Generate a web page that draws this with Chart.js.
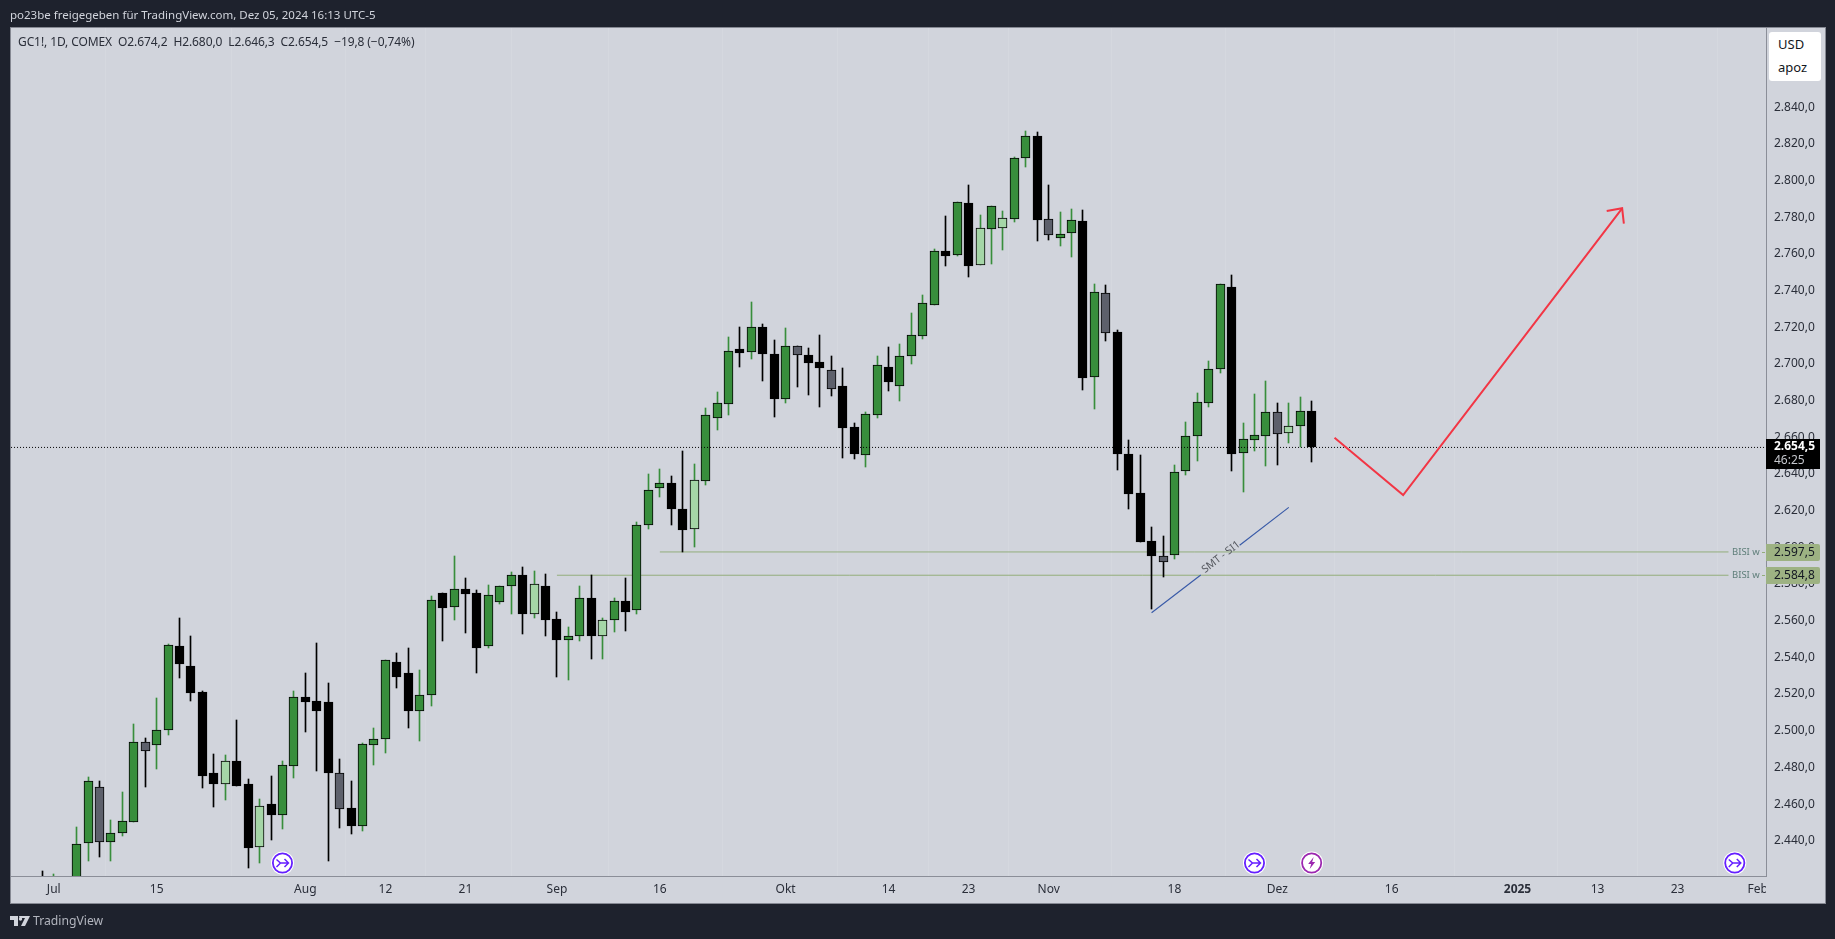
<!DOCTYPE html>
<html lang="de">
<head>
<meta charset="utf-8">
<title>GC1! 1D</title>
<script src="https://cdn.jsdelivr.net/npm/chart.js@4/dist/chart.umd.min.js"></script>
<style>
  html, body { margin: 0; padding: 0; background: #1e222d; overflow: hidden; }
  body { width: 1835px; height: 939px; position: relative; font-family: "Noto Sans", sans-serif; }
  #pane { position: absolute; left: 10px; top: 27px; width: 1814px; height: 875px; background: #d1d4dc; border: 1px solid #868993; }
  #chart { position: absolute; left: 0; top: 0; }
  #shared { position: absolute; left: 10px; top: 6px; font-size: 11.5px; line-height: 18px; color: #d1d4dc; white-space: nowrap; }
  #legend { position: absolute; left: 18px; top: 33px; font-size: 12px; letter-spacing: -0.1px; line-height: 18px; color: #2a2e39; white-space: pre; }
  #unit { position: absolute; left: 1769px; top: 32px; width: 52px; height: 49px; background: #fff; border-radius: 3px; color: #131722; font-size: 13px; line-height: 23px; }
  #unit div { padding-left: 9px; }
  #unit div:first-child { padding-top: 1px; }
  #logo { position: absolute; left: 10px; top: 916px; }
  #brand { position: absolute; left: 33px; top: 911px; font-size: 12.2px; line-height: 20px; color: #b2b5be; }
</style>
</head>
<body>
<div id="pane"></div>
<canvas id="chart" width="1835" height="939"></canvas>
<div id="shared">po23be freigegeben für TradingView.com, Dez 05, 2024 16:13 UTC-5</div>
<div id="legend">GC1!, 1D, COMEX  O2.674,2  H2.680,0  L2.646,3  C2.654,5  −19,8 (−0,74%)</div>
<div id="unit"><div>USD</div><div>apoz</div></div>
<svg id="logo" width="20" height="10" viewBox="0 0 20 10"><path fill="#d1d4dc" d="M0 0h8v10H4V4H0zM9 0h11l-5 10h-4l4-8h-3l-2 2z"/><circle cx="10.5" cy="3" r="1.7" fill="#d1d4dc"/></svg>
<div id="brand">TradingView</div>
<script>
// bar 0 is the last days of June, bar 111 is Dez 05
const opens = [2410, 2404, 2410, 2405, 2438.6, 2469.1, 2439.1, 2444.1, 2450.1, 2493.7, 2492, 2500.2, 2546, 2535.1, 2520.9, 2476.8, 2470.8, 2483.3, 2470.8, 2436.4, 2459.9, 2453.9, 2480.6, 2518.2, 2516, 2515.5, 2476.8, 2457.7, 2447.9, 2492, 2495.3, 2537.3, 2531.3, 2510.9, 2519.3, 2575.1,
  2567.3, 2577.1, 2575, 2546, 2570, 2578.8, 2584.8, 2563.9, 2578.8, 2560.8, 2549.3, 2551.5, 2572.2, 2551.5, 2560.6, 2570.6, 2565.7, 2612.4, 2632.6, 2634.9, 2620.7, 2609.8, 2636,
  2670.7, 2678.3, 2708, 2706.3, 2720, 2705.2, 2681.1, 2709.6, 2704.7, 2700.9, 2696.5, 2687.8, 2665.4, 2650.5, 2672.3, 2698.1, 2688.2,
  2704.5, 2715.4, 2732.4, 2761.4, 2759.6, 2787.6, 2754.2, 2773.4, 2774, 2779.2, 2812.1, 2824.1, 2778.9, 2768.5, 2771.2, 2777.8, 2692.7, 2738.5,
  2717.3, 2650.7, 2629.5, 2603.3, 2595.1, 2596, 2641.5, 2660.6, 2678.5, 2697.1, 2741.8, 2651.3, 2658.4, 2660.6, 2673.6, 2662.2, 2666, 2674.2];
const highs = [2423.5, 2421.9, 2418, 2447.5, 2474.8, 2472.4, 2451.3, 2466.6, 2503.7, 2495.9, 2517.8, 2547.3, 2561.5, 2551.7, 2521.5, 2487.3, 2486.8, 2505.9, 2473.7, 2462.6, 2475.3, 2483.3, 2521.5, 2531.5, 2547.8, 2526, 2484.6, 2472.6, 2493.1, 2501.5, 2538.4, 2542.4, 2545.1, 2533.1, 2573.5, 2575.1,
  2595.3, 2583.3, 2576.6, 2579.3, 2578.8, 2586.4, 2589.1, 2586.9, 2585.5, 2564.6, 2556.4, 2578.8, 2584.8, 2561.3, 2572.2, 2583.3, 2613.7, 2640, 2642.5, 2638.7, 2652.5, 2645.3, 2675.8,
  2684.7, 2714.7, 2720, 2733.8, 2721.8, 2713.1, 2719.4, 2709.6, 2708.7, 2715.8, 2704.2, 2697.8, 2667.8, 2673.6, 2704.2, 2709, 2710.9,
  2727.6, 2737.4, 2762.5, 2780.7, 2788.1, 2797.6, 2781, 2786, 2783.2, 2812.7, 2826.9, 2826.3, 2797.6, 2782.7, 2784.3, 2783.8, 2743.4, 2742.9,
  2718.5, 2658.4, 2650.2, 2611.1, 2606.2, 2644.7, 2668.2, 2684, 2701.4, 2743.4, 2748.3, 2667.6, 2683.5, 2690.5, 2678.5, 2678.5, 2681.8, 2680];
const lows = [2396, 2398, 2404, 2400, 2429.2, 2431.3, 2429.2, 2442.8, 2450.1, 2469.5, 2479.1, 2497.9, 2528.9, 2516.4, 2469, 2458.6, 2462.4, 2470, 2425.3, 2428.1, 2440.6, 2446.6, 2474.4, 2499.5, 2478.2, 2429.2, 2447.1, 2443.9, 2445.5, 2481.5, 2488, 2523.5, 2501.7, 2494.6, 2513.7, 2549.1,
  2560.6, 2553.5, 2531.7, 2545.3, 2569.3, 2563.9, 2552.9, 2561.7, 2551.9, 2529.5, 2527.9, 2549.1, 2539.3, 2539.3, 2554, 2554.6, 2563.9, 2610.2, 2627.6, 2612.4, 2597.5, 2600.4, 2634.2,
  2664.2, 2672.3, 2698.5, 2702.9, 2690.9, 2671.3, 2678.9, 2687.6, 2683.2, 2676.7, 2682.7, 2648.9, 2648.4, 2644, 2670.7, 2685.4, 2680,
  2700, 2713.8, 2732.4, 2753.6, 2759.1, 2747.6, 2754.2, 2754.7, 2762.3, 2777.6, 2807.6, 2767.3, 2767.8, 2764.5, 2758.5, 2686, 2675.6, 2712.7,
  2642.4, 2621.1, 2603.1, 2566.6, 2584, 2593.9, 2639.7, 2647.3, 2676.7, 2695.3, 2641.8, 2630.4, 2652.7, 2644.6, 2645.1, 2657.1, 2654.6, 2646.3];
const closes = [2404, 2412, 2415, 2438.1, 2472.4, 2439.1, 2444.1, 2450.6, 2493.7, 2488.8, 2500.2, 2546.6, 2536.2, 2520.8, 2475.5, 2471.1, 2483.3, 2470, 2436.2, 2458.8, 2454.2, 2481.1, 2518.2, 2515.8, 2510.9, 2477.1, 2457.1, 2448.2, 2492.6, 2495.3, 2538.4, 2529.5, 2510.9, 2519.3, 2571.1, 2567.1,
  2577.1, 2574.8, 2545.3, 2573.9, 2578.8, 2584.8, 2563.9, 2579.9, 2560.6, 2549.7, 2551.5, 2572.2, 2551.9, 2560.2, 2570.6, 2565, 2612, 2631.1, 2634.9, 2621.1, 2609.7, 2636.5, 2672,
  2678.5, 2706.9, 2706.1, 2720, 2705.6, 2681.1, 2709.6, 2705.1, 2700.7, 2698, 2686.5, 2665.3, 2651.1, 2672.5, 2699.3, 2690.3, 2704.2,
  2715.6, 2733.1, 2761.4, 2759.1, 2788.1, 2753.6, 2774, 2786, 2779.4, 2812.1, 2824.1, 2778.7, 2770.5, 2770.7, 2778.3, 2692.5, 2739.1, 2716.7,
  2651.1, 2629.3, 2603.1, 2595.5, 2592.2, 2640.9, 2660.6, 2679.1, 2697.1, 2743.4, 2651.1, 2658.9, 2661.1, 2673.6, 2661.6, 2666, 2674.2, 2654.5];
// g = green, b = black, h = grey, l = light green
const bodyKinds = ('bgggghgggh' + 'ggbbbblbbl' + 'bggbbbhbgg' + 'gbbggb' +
  'gbbgggblbb' + 'ggblgbgggb' + 'blgggbgbbg' + 'hbbhbbggbg' +
  'gggbgblglg' + 'gbhggbghbb' + 'bbhgggggbg' + 'gghlgb').split('');

const tickBars = [1, 10, 23, 30, 37, 45, 54, 65, 74, 81, 88, 99, 108, 118, 129, 136, 143, 150];
const tickNames = ['Jul', '15', 'Aug', '12', '21', 'Sep', '16', 'Okt', '14', '23', 'Nov', '18', 'Dez', '16', '2025', '13', '23', 'Feb'];
const priceTicks = [2440, 2460, 2480, 2500, 2520, 2540, 2560, 2580, 2600, 2620, 2640, 2660, 2680, 2700, 2720, 2740, 2760, 2780, 2800, 2820, 2840];

const lastPrice = 2654.5;
const bisiUpper = 2597.5;
const bisiLower = 2584.8;
const smtX = [97, 101.3, 103, 104.7, 109];
const smtY = [2564.4, 2584.9, null, 2601.1, 2621.8];
const projectionX = [113, 119, 138.15];
const projectionY = [2659.8, 2628.5, 2784.9];
const arrowHeadX = [136.8, 138.15, 138.3];
const arrowHeadY = [2783.4, 2784.9, 2776.5];
const iconBars = [21, 106, 111, 148];
const iconKinds = ['jump', 'jump', 'bolt', 'jump'];

const GREEN = '#388e3c';
const bodyColors = { g: GREEN, b: '#000000', h: '#5d606b', l: '#a5d6a7' };
const wickColors = { g: GREEN, b: '#000000', h: '#000000', l: GREEN };
const fontName = '"Noto Sans", sans-serif';

const fmtPrice = v => v.toLocaleString('de-DE', { minimumFractionDigits: 1, maximumFractionDigits: 1 });
const xy = (xs, ys) => xs.map((x, i) => ({ x, y: ys[i] }));

// keep bars on whole pixels so wicks stay crisp
const snapBars = {
  id: 'snapBars',
  beforeDatasetDraw(chart, args) {
    if (args.meta.type !== 'bar') return;
    args.meta.data.forEach(el => {
      el.x = Math.floor(el.x) + 0.5;
      el.y = Math.round(el.y);
      el.base = Math.round(el.base);
    });
  }
};

function drawIcon(ctx, x, y, kind) {
  const col = kind === 'bolt' ? '#9c27b0' : '#651fff';
  ctx.beginPath();
  ctx.arc(x, y, 11.5, 0, Math.PI * 2);
  ctx.fillStyle = '#ffffff';
  ctx.fill();
  ctx.beginPath();
  ctx.arc(x, y, 9.6, 0, Math.PI * 2);
  ctx.strokeStyle = col;
  ctx.lineWidth = 1.8;
  ctx.stroke();
  ctx.strokeStyle = col;
  ctx.fillStyle = col;
  ctx.lineWidth = 1.5;
  ctx.beginPath();
  if (kind === 'bolt') {
    ctx.moveTo(x + 2, y - 6);
    ctx.lineTo(x - 3.5, y + 1);
    ctx.lineTo(x - 0.5, y + 1);
    ctx.lineTo(x - 2, y + 6);
    ctx.lineTo(x + 3.5, y - 1);
    ctx.lineTo(x + 0.5, y - 1);
    ctx.closePath();
    ctx.fill();
  } else {
    ctx.moveTo(x - 6, y - 3.5);
    ctx.lineTo(x - 2, y);
    ctx.lineTo(x + 6, y);
    ctx.moveTo(x - 6, y + 4);
    ctx.lineTo(x - 2, y);
    ctx.moveTo(x + 2, y - 4);
    ctx.lineTo(x + 6, y);
    ctx.lineTo(x + 2, y + 4);
    ctx.stroke();
  }
}

function priceTag(ctx, yScale, price) {
  const y = Math.round(yScale.getPixelForValue(price));
  ctx.fillStyle = '#9db283';
  ctx.beginPath();
  ctx.roundRect(1766, y - 8, 54, 17, [0, 2, 2, 0]);
  ctx.fill();
  ctx.fillStyle = '#131722';
  ctx.font = '12px ' + fontName;
  ctx.textAlign = 'left';
  ctx.textBaseline = 'middle';
  ctx.fillText(fmtPrice(price), 1774, y + 0.5);
  ctx.fillStyle = '#5f7f7a';
  ctx.font = '9.5px ' + fontName;
  ctx.fillText('BISI w', 1732, y);
  ctx.fillStyle = '#93ad7b';
  ctx.fillRect(1762, y, 3, 1);
}

const overlays = {
  id: 'overlays',
  afterDraw(chart) {
    const { ctx, scales: { x, y } } = chart;
    ctx.save();
    // Feb runs into the price axis and gets cut there
    ctx.clearRect(1766, 877, 58, 25);

    iconBars.forEach((bar, i) => drawIcon(ctx, x.getPixelForValue(bar), 863, iconKinds[i]));

    priceTag(ctx, y, bisiUpper);
    priceTag(ctx, y, bisiLower);

    const lastY = Math.round(y.getPixelForValue(lastPrice));
    ctx.fillStyle = '#000000';
    ctx.fillRect(1766, lastY - 8, 54, 30);
    ctx.textAlign = 'left';
    ctx.textBaseline = 'middle';
    ctx.fillStyle = '#ffffff';
    ctx.font = 'bold 12px ' + fontName;
    ctx.fillText(fmtPrice(lastPrice), 1774, lastY);
    ctx.fillStyle = '#c5c7cd';
    ctx.font = '12px ' + fontName;
    ctx.fillText('46:25', 1774, lastY + 14);

    ctx.translate(1221, 557);
    ctx.rotate(-37.6 * Math.PI / 180);
    ctx.fillStyle = '#55585f';
    ctx.font = '10.5px ' + fontName;
    ctx.textAlign = 'center';
    ctx.fillText('SMT - SI1', 0, 0);
    ctx.restore();
  }
};

const lineSet = (data, color, width, order, extra) => Object.assign({
  type: 'line', data, borderColor: color, borderWidth: width, pointRadius: 0, tension: 0, spanGaps: false, order
}, extra);

const bars = opens.map((_, i) => i);

new Chart(document.getElementById('chart'), {
  type: 'bar',
  plugins: [snapBars, overlays],
  data: {
    datasets: [
      lineSet(xy([45, 147.45], [bisiLower, bisiLower]), '#93ad7b', 1, 6),
      lineSet(xy([54, 147.45], [bisiUpper, bisiUpper]), '#93ad7b', 1, 6),
      {
        data: bars.map(i => ({ x: i, y: [lows[i], highs[i]] })),
        backgroundColor: bodyKinds.map(k => wickColors[k]),
        barThickness: 1, grouped: false, borderSkipped: false, order: 5
      },
      {
        data: bars.map(i => ({ x: i, y: [opens[i], closes[i]] })),
        backgroundColor: bodyKinds.map(k => bodyColors[k]),
        borderColor: '#000000', borderWidth: 1,
        barThickness: 9, grouped: false, borderSkipped: false, order: 4
      },
      lineSet(xy([-3, 151], [lastPrice, lastPrice]), '#000000', 1, 3, { borderDash: [1, 2] }),
      lineSet(xy(smtX, smtY), '#3a5ba8', 1.2, 2),
      lineSet(xy(projectionX, projectionY), '#f23645', 2, 1),
      lineSet(xy(arrowHeadX, arrowHeadY), '#f23645', 2, 0)
    ]
  },
  options: {
    responsive: false,
    animation: false,
    events: [],
    layout: { padding: { left: 11, top: 28, right: 10, bottom: 36 } },
    plugins: { legend: { display: false }, tooltip: { enabled: false }, title: { display: false } },
    scales: {
      x: {
        type: 'linear',
        min: -2.74,
        max: 150.73,
        offset: false,
        afterBuildTicks: s => { s.ticks = tickBars.map(value => ({ value })); },
        afterFit: s => { s.height = 27; },
        grid: { color: '#d5d8df', drawTicks: false },
        border: { color: '#8b8e98', width: 1 },
        ticks: {
          autoSkip: false,
          maxRotation: 0,
          padding: 6,
          color: '#2a2e39',
          font: c => ({ family: fontName, size: 12, weight: c.tick && c.tick.value === 129 ? 'bold' : 'normal' }),
          callback: v => tickNames[tickBars.indexOf(v)]
        }
      },
      y: {
        position: 'right',
        min: 2420.8,
        max: 2883.2,
        afterBuildTicks: s => { s.ticks = priceTicks.map(value => ({ value })); },
        afterFit: s => { s.width = 59; },
        grid: { display: false, drawTicks: false },
        border: { color: '#8b8e98', width: 1 },
        ticks: {
          autoSkip: false,
          padding: 8,
          color: '#2a2e39',
          font: { family: fontName, size: 12 },
          callback: v => fmtPrice(v)
        }
      }
    }
  }
});
</script>
</body>
</html>
